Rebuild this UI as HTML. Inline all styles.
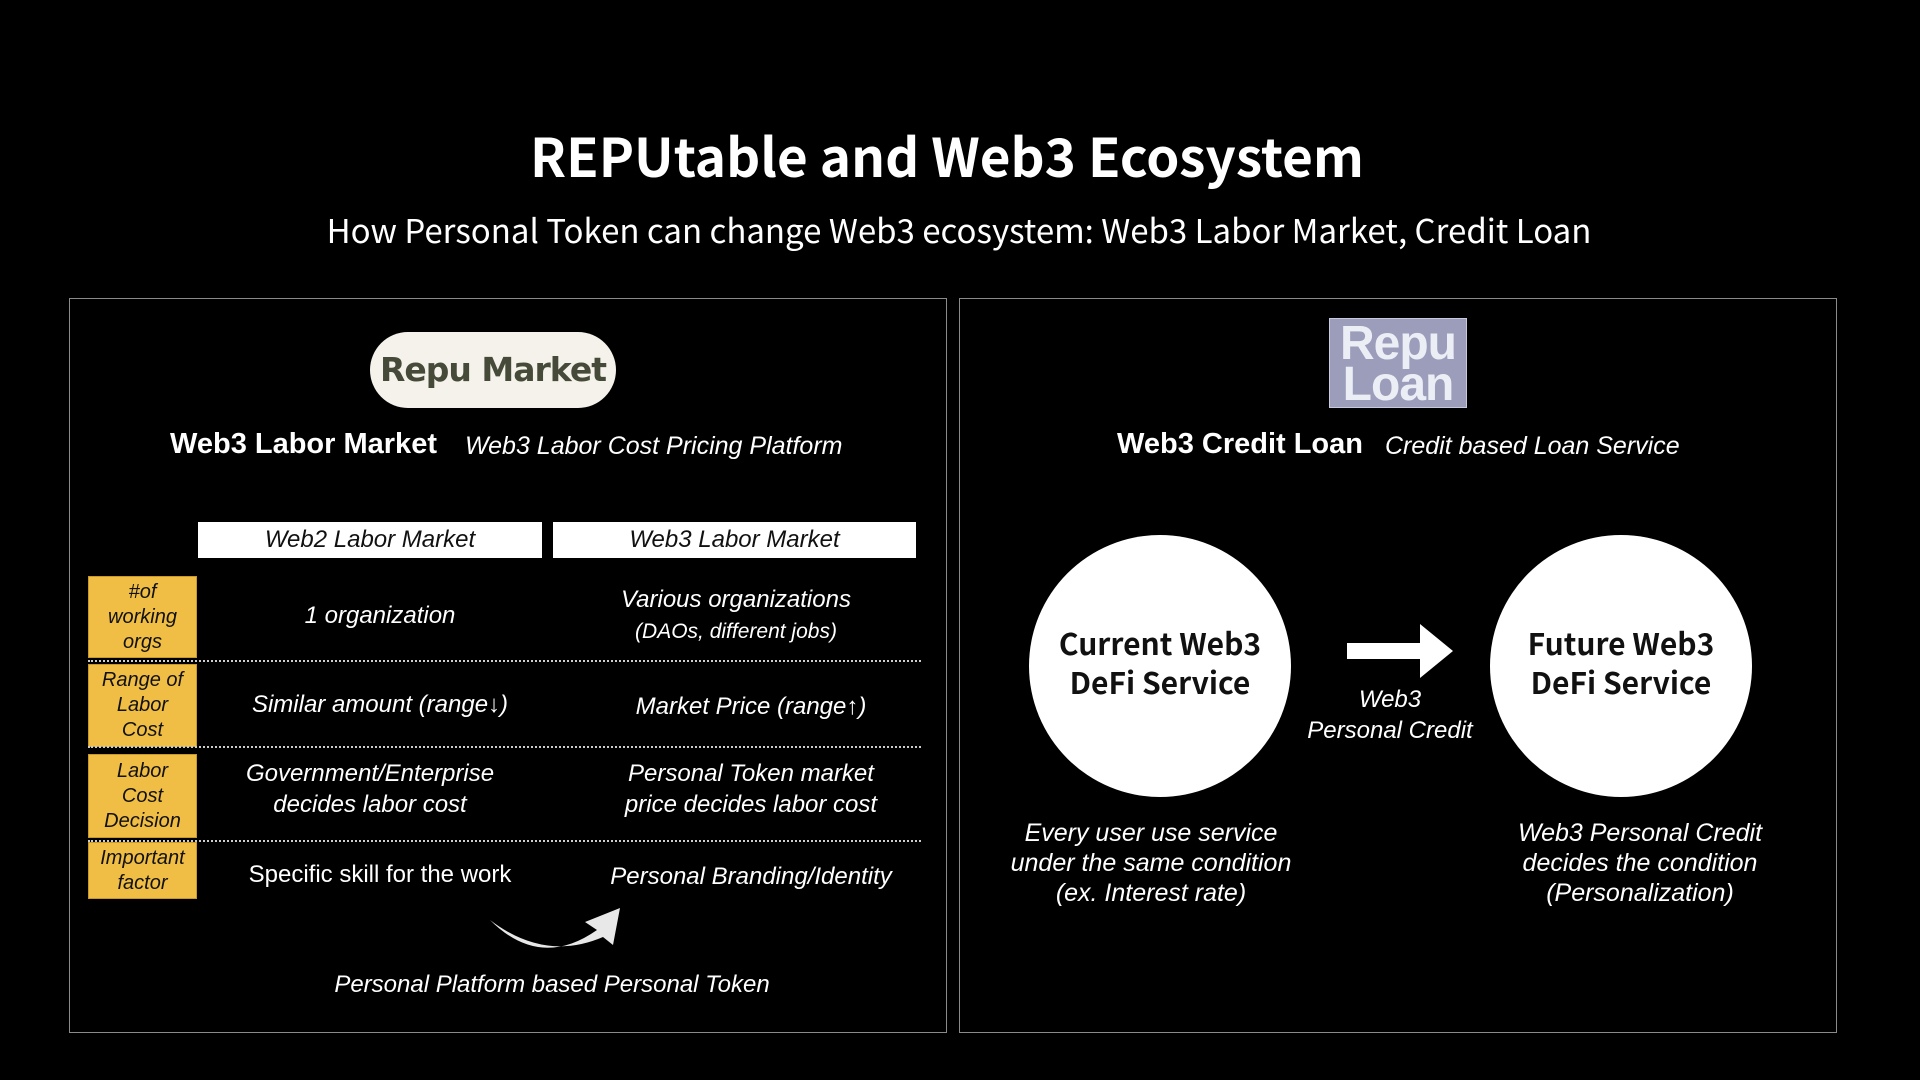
<!DOCTYPE html>
<html><head><meta charset="utf-8"><style>
body{margin:0;width:1920px;height:1080px;background:#000;position:relative;overflow:hidden;color:#fff;font-family:"Liberation Sans",sans-serif}
.a{position:absolute;white-space:nowrap}
.c{transform:translateX(-50%);text-align:center}
.n{font-family:"Liberation Sans Narrow","Liberation Sans",sans-serif;font-style:italic}
.panel{position:absolute;border:1.5px solid #8a8a8a;top:298px;height:733px;width:876px}
.y{position:absolute;left:88px;width:109px;background:#f0bd45;border:1px solid #c99a2a;box-sizing:border-box;color:#111;font-family:"Liberation Sans Narrow","Liberation Sans",sans-serif;font-style:italic;font-size:20px;line-height:25px;display:flex;align-items:center;justify-content:center;text-align:center}
.dot{position:absolute;left:88px;width:833px;border-top:2px dotted #ccc}
.hd{position:absolute;top:522px;height:36px;background:#fff;color:#111;font-style:italic;font-size:24px;line-height:36px;text-align:center;font-family:"Liberation Sans Narrow","Liberation Sans",sans-serif}
.t{font-size:24px;line-height:31px}
.circ{position:absolute;width:262px;height:262px;border-radius:50%;background:#fff;color:#111;top:535px;display:flex;align-items:center;justify-content:center;text-align:center;font-family:"Noto Sans CJK KR","DejaVu Sans",sans-serif;font-weight:bold;font-size:30px;line-height:39px}
.circ span{position:relative;top:-4px}
</style></head><body>
<div class="a c" style="left:947px;top:120px;font-size:53px;font-weight:bold;font-family:'Noto Sans CJK KR','DejaVu Sans',sans-serif;line-height:70px">REPUtable and Web3 Ecosystem</div>
<div class="a c" style="left:959px;top:207px;font-size:33px;font-family:'Noto Sans CJK KR','DejaVu Sans',sans-serif;line-height:44px">How Personal Token can change Web3 ecosystem: Web3 Labor Market, Credit Loan</div>

<div class="panel" style="left:69px"></div>
<div class="panel" style="left:959px"></div>

<div class="a" style="left:370px;top:332px;width:246px;height:76px;border-radius:38px;background:#f4f2ea;color:#464a38;font-weight:bold;font-size:33px;line-height:76px;text-align:center;font-family:'DejaVu Sans',sans-serif;letter-spacing:-1px">Repu Market</div>
<div class="a" style="left:170px;top:427px;font-size:29px;font-weight:bold;line-height:34px">Web3 Labor Market</div>
<div class="a n" style="left:465px;top:429px;font-size:25px;line-height:34px">Web3 Labor Cost Pricing Platform</div>

<div class="hd" style="left:198px;width:344px">Web2 Labor Market</div>
<div class="hd" style="left:553px;width:363px">Web3 Labor Market</div>

<div class="y" style="top:576px;height:82px">#of<br>working<br>orgs</div>
<div class="y" style="top:664px;height:83px">Range of<br>Labor<br>Cost</div>
<div class="y" style="top:754px;height:84px">Labor<br>Cost<br>Decision</div>
<div class="y" style="top:842px;height:57px">Important<br>factor</div>
<div class="dot" style="top:660px"></div>
<div class="dot" style="top:746px"></div>
<div class="dot" style="top:840px"></div>

<div class="a c n t" style="left:380px;top:600px">1 organization</div>
<div class="a c n t" style="left:736px;top:584px">Various organizations<br><span style="font-size:21px">(DAOs, different jobs)</span></div>
<div class="a c n t" style="left:380px;top:689px">Similar amount (range↓)</div>
<div class="a c n t" style="left:751px;top:691px">Market Price (range↑)</div>
<div class="a c n t" style="left:370px;top:758px">Government/Enterprise<br>decides labor cost</div>
<div class="a c n t" style="left:751px;top:758px">Personal Token market<br>price decides labor cost</div>
<div class="a c t" style="left:380px;top:859px;font-family:'Liberation Sans Narrow','Liberation Sans',sans-serif">Specific skill for the work</div>
<div class="a c n t" style="left:751px;top:861px">Personal Branding/Identity</div>
<svg class="a" style="left:485px;top:900px" width="145" height="55" viewBox="0 0 145 55">
<path d="M5 20 Q55 70 112 30 L100 22 L135 8 L128 45 L118 37 Q60 62 5 20Z" fill="#e8e8e8"/>
</svg>
<div class="a c n t" style="left:552px;top:969px">Personal Platform based Personal Token</div>

<div class="a" style="left:1329px;top:318px;width:138px;height:90px;background:#9b9dbb;border:1px solid #c8c9dc;box-sizing:border-box;color:#eceef6;font-weight:bold;font-size:48px;line-height:41px;text-align:center;font-family:'Liberation Sans',sans-serif;letter-spacing:-1px;padding-top:4px">Repu<br>Loan</div>
<div class="a" style="left:1117px;top:427px;font-size:29px;font-weight:bold;line-height:34px">Web3 Credit Loan</div>
<div class="a n" style="left:1385px;top:429px;font-size:25px;line-height:34px">Credit based Loan Service</div>

<div class="circ" style="left:1029px"><span>Current Web3<br>DeFi Service</span></div>
<div class="circ" style="left:1490px"><span>Future Web3<br>DeFi Service</span></div>
<svg class="a" style="left:1347px;top:622px" width="108" height="58" viewBox="0 0 108 58">
<path d="M0 21 L73 21 L73 2 L106 29 L73 56 L73 37 L0 37Z" fill="#fff"/>
</svg>
<div class="a c n" style="left:1390px;top:684px;font-size:24px;line-height:31px">Web3<br>Personal Credit</div>
<div class="a c n" style="left:1151px;top:818px;font-size:25px;line-height:30px">Every user use service<br>under the same condition<br>(ex. Interest rate)</div>
<div class="a c n" style="left:1640px;top:818px;font-size:25px;line-height:30px">Web3 Personal Credit<br>decides the condition<br>(Personalization)</div>
</body></html>
